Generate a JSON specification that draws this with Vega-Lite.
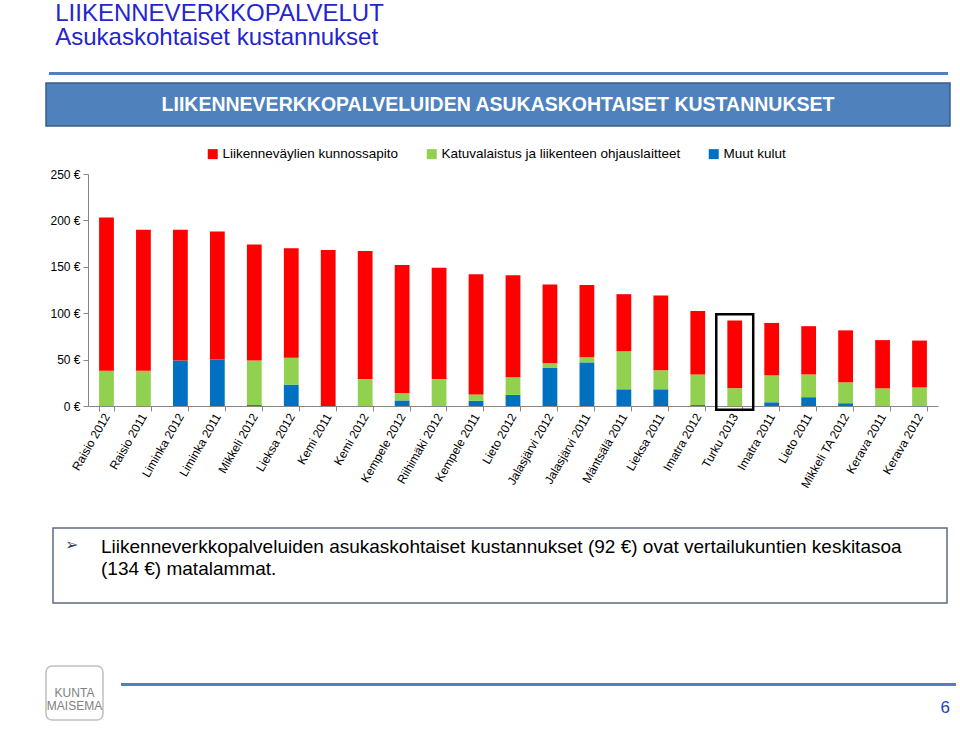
{
  "$schema": "https://vega.github.io/schema/vega-lite/v6.json",
  "padding": {"left": 45, "top": 1, "right": 0, "bottom": 0},
  "background": "white",
  "config": {"view": {"stroke": null}, "font": "Liberation Sans"},
  "title": {
    "text": ["LIIKENNEVERKKOPALVELUT", "Asukaskohtaiset kustannukset"],
    "anchor": "start", "fontSize": 24, "fontWeight": "normal", "font": "Liberation Sans",
    "color": "#2424d0", "lineHeight": 24.5, "offset": 22, "dx": 10, "baseline": "top"
  },
  "spacing": 0,
  "resolve": {"scale": {"color": "independent"}, "legend": {"color": "independent"}},
  "vconcat": [
    {"spacing": 0, "hconcat": [
      {"width": 2.25, "height": 3, "data": {"values": []}, "mark": "text"},
      {"width": 899, "height": 3, "view": {"fill": "#4f81bd", "stroke": null}, "data": {"values": []}, "mark": "text"}
    ]},
    {"width": 10, "height": 7, "data": {"values": []}, "mark": "text"},
    {
      "width": 904, "height": 43,
      "view": {"fill": "#4f81bd", "stroke": "#385d8a", "strokeWidth": 1.5},
      "data": {"values": [{"t": "LIIKENNEVERKKOPALVELUIDEN ASUKASKOHTAISET KUSTANNUKSET"}]},
      "mark": {"type": "text", "color": "white", "fontWeight": "bold", "fontSize": 19.5, "font": "Liberation Sans", "baseline": "middle", "align": "center"},
      "encoding": {"text": {"field": "t"}}
    },
    {"width": 10, "height": 19.5, "data": {"values": []}, "mark": "text"},
    {"spacing": 0, "hconcat": [
      {"width": 3, "height": 10, "data": {"values": []}, "mark": "text"},
      {
      "width": 850, "height": 232,
      "data": {"values": [
        {"kunta":"Raisio 2012","laji":"Muut kulut","k":1,"eur":0},
        {"kunta":"Raisio 2012","laji":"Katuvalaistus ja liikenteen ohjauslaitteet","k":2,"eur":38},
        {"kunta":"Raisio 2012","laji":"Liikenneväylien kunnossapito","k":3,"eur":165},
        {"kunta":"Raisio 2011","laji":"Muut kulut","k":1,"eur":0},
        {"kunta":"Raisio 2011","laji":"Katuvalaistus ja liikenteen ohjauslaitteet","k":2,"eur":38},
        {"kunta":"Raisio 2011","laji":"Liikenneväylien kunnossapito","k":3,"eur":152},
        {"kunta":"Liminka 2012","laji":"Muut kulut","k":1,"eur":49},
        {"kunta":"Liminka 2012","laji":"Katuvalaistus ja liikenteen ohjauslaitteet","k":2,"eur":0},
        {"kunta":"Liminka 2012","laji":"Liikenneväylien kunnossapito","k":3,"eur":141},
        {"kunta":"Liminka 2011","laji":"Muut kulut","k":1,"eur":50},
        {"kunta":"Liminka 2011","laji":"Katuvalaistus ja liikenteen ohjauslaitteet","k":2,"eur":0},
        {"kunta":"Liminka 2011","laji":"Liikenneväylien kunnossapito","k":3,"eur":138},
        {"kunta":"Mikkeli 2012","laji":"Muut kulut","k":1,"eur":1},
        {"kunta":"Mikkeli 2012","laji":"Katuvalaistus ja liikenteen ohjauslaitteet","k":2,"eur":48},
        {"kunta":"Mikkeli 2012","laji":"Liikenneväylien kunnossapito","k":3,"eur":125},
        {"kunta":"Lieksa 2012","laji":"Muut kulut","k":1,"eur":23},
        {"kunta":"Lieksa 2012","laji":"Katuvalaistus ja liikenteen ohjauslaitteet","k":2,"eur":29},
        {"kunta":"Lieksa 2012","laji":"Liikenneväylien kunnossapito","k":3,"eur":118},
        {"kunta":"Kemi 2011","laji":"Muut kulut","k":1,"eur":0},
        {"kunta":"Kemi 2011","laji":"Katuvalaistus ja liikenteen ohjauslaitteet","k":2,"eur":0},
        {"kunta":"Kemi 2011","laji":"Liikenneväylien kunnossapito","k":3,"eur":168},
        {"kunta":"Kemi 2012","laji":"Muut kulut","k":1,"eur":0},
        {"kunta":"Kemi 2012","laji":"Katuvalaistus ja liikenteen ohjauslaitteet","k":2,"eur":29},
        {"kunta":"Kemi 2012","laji":"Liikenneväylien kunnossapito","k":3,"eur":138},
        {"kunta":"Kempele 2012","laji":"Muut kulut","k":1,"eur":6},
        {"kunta":"Kempele 2012","laji":"Katuvalaistus ja liikenteen ohjauslaitteet","k":2,"eur":8},
        {"kunta":"Kempele 2012","laji":"Liikenneväylien kunnossapito","k":3,"eur":138},
        {"kunta":"Riihimäki 2012","laji":"Muut kulut","k":1,"eur":0.5},
        {"kunta":"Riihimäki 2012","laji":"Katuvalaistus ja liikenteen ohjauslaitteet","k":2,"eur":28.5},
        {"kunta":"Riihimäki 2012","laji":"Liikenneväylien kunnossapito","k":3,"eur":120},
        {"kunta":"Kempele 2011","laji":"Muut kulut","k":1,"eur":5.5},
        {"kunta":"Kempele 2011","laji":"Katuvalaistus ja liikenteen ohjauslaitteet","k":2,"eur":7},
        {"kunta":"Kempele 2011","laji":"Liikenneväylien kunnossapito","k":3,"eur":129.5},
        {"kunta":"Lieto 2012","laji":"Muut kulut","k":1,"eur":12},
        {"kunta":"Lieto 2012","laji":"Katuvalaistus ja liikenteen ohjauslaitteet","k":2,"eur":19},
        {"kunta":"Lieto 2012","laji":"Liikenneväylien kunnossapito","k":3,"eur":110},
        {"kunta":"Jalasjärvi 2012","laji":"Muut kulut","k":1,"eur":41},
        {"kunta":"Jalasjärvi 2012","laji":"Katuvalaistus ja liikenteen ohjauslaitteet","k":2,"eur":5},
        {"kunta":"Jalasjärvi 2012","laji":"Liikenneväylien kunnossapito","k":3,"eur":85},
        {"kunta":"Jalasjärvi 2011","laji":"Muut kulut","k":1,"eur":47},
        {"kunta":"Jalasjärvi 2011","laji":"Katuvalaistus ja liikenteen ohjauslaitteet","k":2,"eur":5.5},
        {"kunta":"Jalasjärvi 2011","laji":"Liikenneväylien kunnossapito","k":3,"eur":78},
        {"kunta":"Mäntsälä 2011","laji":"Muut kulut","k":1,"eur":18},
        {"kunta":"Mäntsälä 2011","laji":"Katuvalaistus ja liikenteen ohjauslaitteet","k":2,"eur":41},
        {"kunta":"Mäntsälä 2011","laji":"Liikenneväylien kunnossapito","k":3,"eur":61.5},
        {"kunta":"Lieksa 2011","laji":"Muut kulut","k":1,"eur":18},
        {"kunta":"Lieksa 2011","laji":"Katuvalaistus ja liikenteen ohjauslaitteet","k":2,"eur":20.5},
        {"kunta":"Lieksa 2011","laji":"Liikenneväylien kunnossapito","k":3,"eur":80.5},
        {"kunta":"Imatra 2012","laji":"Muut kulut","k":1,"eur":1},
        {"kunta":"Imatra 2012","laji":"Katuvalaistus ja liikenteen ohjauslaitteet","k":2,"eur":33},
        {"kunta":"Imatra 2012","laji":"Liikenneväylien kunnossapito","k":3,"eur":68.5},
        {"kunta":"Turku 2013","laji":"Muut kulut","k":1,"eur":0},
        {"kunta":"Turku 2013","laji":"Katuvalaistus ja liikenteen ohjauslaitteet","k":2,"eur":19},
        {"kunta":"Turku 2013","laji":"Liikenneväylien kunnossapito","k":3,"eur":73},
        {"kunta":"Imatra 2011","laji":"Muut kulut","k":1,"eur":4},
        {"kunta":"Imatra 2011","laji":"Katuvalaistus ja liikenteen ohjauslaitteet","k":2,"eur":29},
        {"kunta":"Imatra 2011","laji":"Liikenneväylien kunnossapito","k":3,"eur":56.5},
        {"kunta":"Lieto 2011","laji":"Muut kulut","k":1,"eur":9.5},
        {"kunta":"Lieto 2011","laji":"Katuvalaistus ja liikenteen ohjauslaitteet","k":2,"eur":24.5},
        {"kunta":"Lieto 2011","laji":"Liikenneväylien kunnossapito","k":3,"eur":52},
        {"kunta":"Mikkeli TA 2012","laji":"Muut kulut","k":1,"eur":3},
        {"kunta":"Mikkeli TA 2012","laji":"Katuvalaistus ja liikenteen ohjauslaitteet","k":2,"eur":22.5},
        {"kunta":"Mikkeli TA 2012","laji":"Liikenneväylien kunnossapito","k":3,"eur":56},
        {"kunta":"Kerava 2011","laji":"Muut kulut","k":1,"eur":0},
        {"kunta":"Kerava 2011","laji":"Katuvalaistus ja liikenteen ohjauslaitteet","k":2,"eur":19},
        {"kunta":"Kerava 2011","laji":"Liikenneväylien kunnossapito","k":3,"eur":52},
        {"kunta":"Kerava 2012","laji":"Muut kulut","k":1,"eur":0},
        {"kunta":"Kerava 2012","laji":"Katuvalaistus ja liikenteen ohjauslaitteet","k":2,"eur":20},
        {"kunta":"Kerava 2012","laji":"Liikenneväylien kunnossapito","k":3,"eur":50.5}
      ]},
      "encoding": {
        "x": {
          "field": "kunta", "type": "nominal", "sort": null,
          "scale": {"paddingInner": 0.6, "paddingOuter": 0.3},
          "axis": {"title": null, "labelAngle": -60, "labelFontSize": 12, "labelColor": "#000000",
                   "domainColor": "#868686", "tickColor": "#868686", "tickSize": 5, "tickBand": "extent",
                   "labelPadding": 3, "labelOverlap": false, "labelFont": "Liberation Sans"}
        }
      },
      "layer": [
        {
          "mark": {"type": "bar"},
          "encoding": {
            "y": {"field": "eur", "type": "quantitative", "stack": "zero",
                  "scale": {"domain": [0, 250], "nice": false},
                  "axis": {"title": null, "values": [0, 50, 100, 150, 200, 250], "labelExpr": "datum.value + ' €'",
                           "grid": false, "domainColor": "#868686", "tickColor": "#868686", "tickSize": 5,
                           "labelPadding": 3, "labelFontSize": 12, "labelColor": "#000000", "labelFont": "Liberation Sans"}},
            "color": {"field": "laji", "type": "nominal",
                      "scale": {"domain": ["Liikenneväylien kunnossapito", "Katuvalaistus ja liikenteen ohjauslaitteet", "Muut kulut"],
                                "range": ["#ff0000", "#92d050", "#0070c0"]},
                      "legend": {"title": null, "orient": "none", "legendX": 160, "legendY": -27, "direction": "horizontal",
                                 "columns": 3, "symbolType": "square", "symbolSize": 100, "symbolStrokeWidth": 0,
                                 "labelFontSize": 13.5, "labelColor": "#000000", "columnPadding": 26, "labelOffset": 3,
                                 "padding": 0, "labelLimit": 400, "labelFont": "Liberation Sans"}},
            "order": {"field": "k", "type": "quantitative"}
          }
        },
        {
          "transform": [{"filter": "datum.kunta == 'Turku 2013' && datum.k == 1"}],
          "mark": {"type": "bar", "fill": "transparent", "stroke": "#000000", "strokeWidth": 2.5, "width": {"band": 2.5}},
          "encoding": {"y": {"datum": 99}, "y2": {"datum": -4}}
        }
      ]
    }]},
    {"width": 10, "height": 36, "data": {"values": []}, "mark": "text"},
    {"spacing": 0, "hconcat": [
      {"width": 5.5, "height": 10, "data": {"values": []}, "mark": "text"},
      {
      "width": 894, "height": 75,
      "view": {"stroke": "#5a6b82", "strokeWidth": 1.5, "fill": null},
      "data": {"values": [{"bullet": "➢", "body": ["Liikenneverkkopalveluiden asukaskohtaiset kustannukset (92 €) ovat vertailukuntien keskitasoa", "(134 €) matalammat."]}]},
      "encoding": {
        "x": {"datum": 0, "type": "quantitative", "scale": {"domain": [0, 1]}, "axis": null},
        "y": {"datum": 1, "type": "quantitative", "scale": {"domain": [0, 1]}, "axis": null}
      },
      "layer": [
        {"mark": {"type": "text", "align": "left", "baseline": "middle", "dx": 12, "dy": 17, "fontSize": 16, "color": "#2f3f66", "font": "DejaVu Sans"},
         "encoding": {"text": {"field": "bullet"}}},
        {"mark": {"type": "text", "align": "left", "baseline": "middle", "dx": 48, "dy": 19, "fontSize": 19, "lineHeight": 22, "color": "#000000", "font": "Liberation Sans"},
         "encoding": {"text": {"field": "body"}}}
      ]
    }]},
    {"width": 10, "height": 61, "data": {"values": []}, "mark": "text"},
    {
      "spacing": 17,
      "hconcat": [
        {"width": 57, "height": 54,
         "view": {"fill": "white", "stroke": "#c0c0c0", "strokeWidth": 1.5, "cornerRadius": 6},
         "data": {"values": [{"t": ["KUNTA", "MAISEMA"]}]},
         "mark": {"type": "text", "fontSize": 12, "color": "#808080", "lineHeight": 13, "font": "Liberation Sans"},
         "encoding": {"text": {"field": "t"}}},
        {"spacing": 0, "vconcat": [
          {"width": 10, "height": 16.5, "data": {"values": []}, "mark": "text"},
          {"width": 835, "height": 3, "view": {"fill": "#4f81bd", "stroke": null},
           "data": {"values": []}, "mark": "text",
           "title": {"text": "6", "orient": "bottom", "anchor": "end", "offset": 14, "fontSize": 17, "color": "#2a3cc0", "fontWeight": "normal", "dx": -6}}
        ]}
      ]
    }
  ]
}
